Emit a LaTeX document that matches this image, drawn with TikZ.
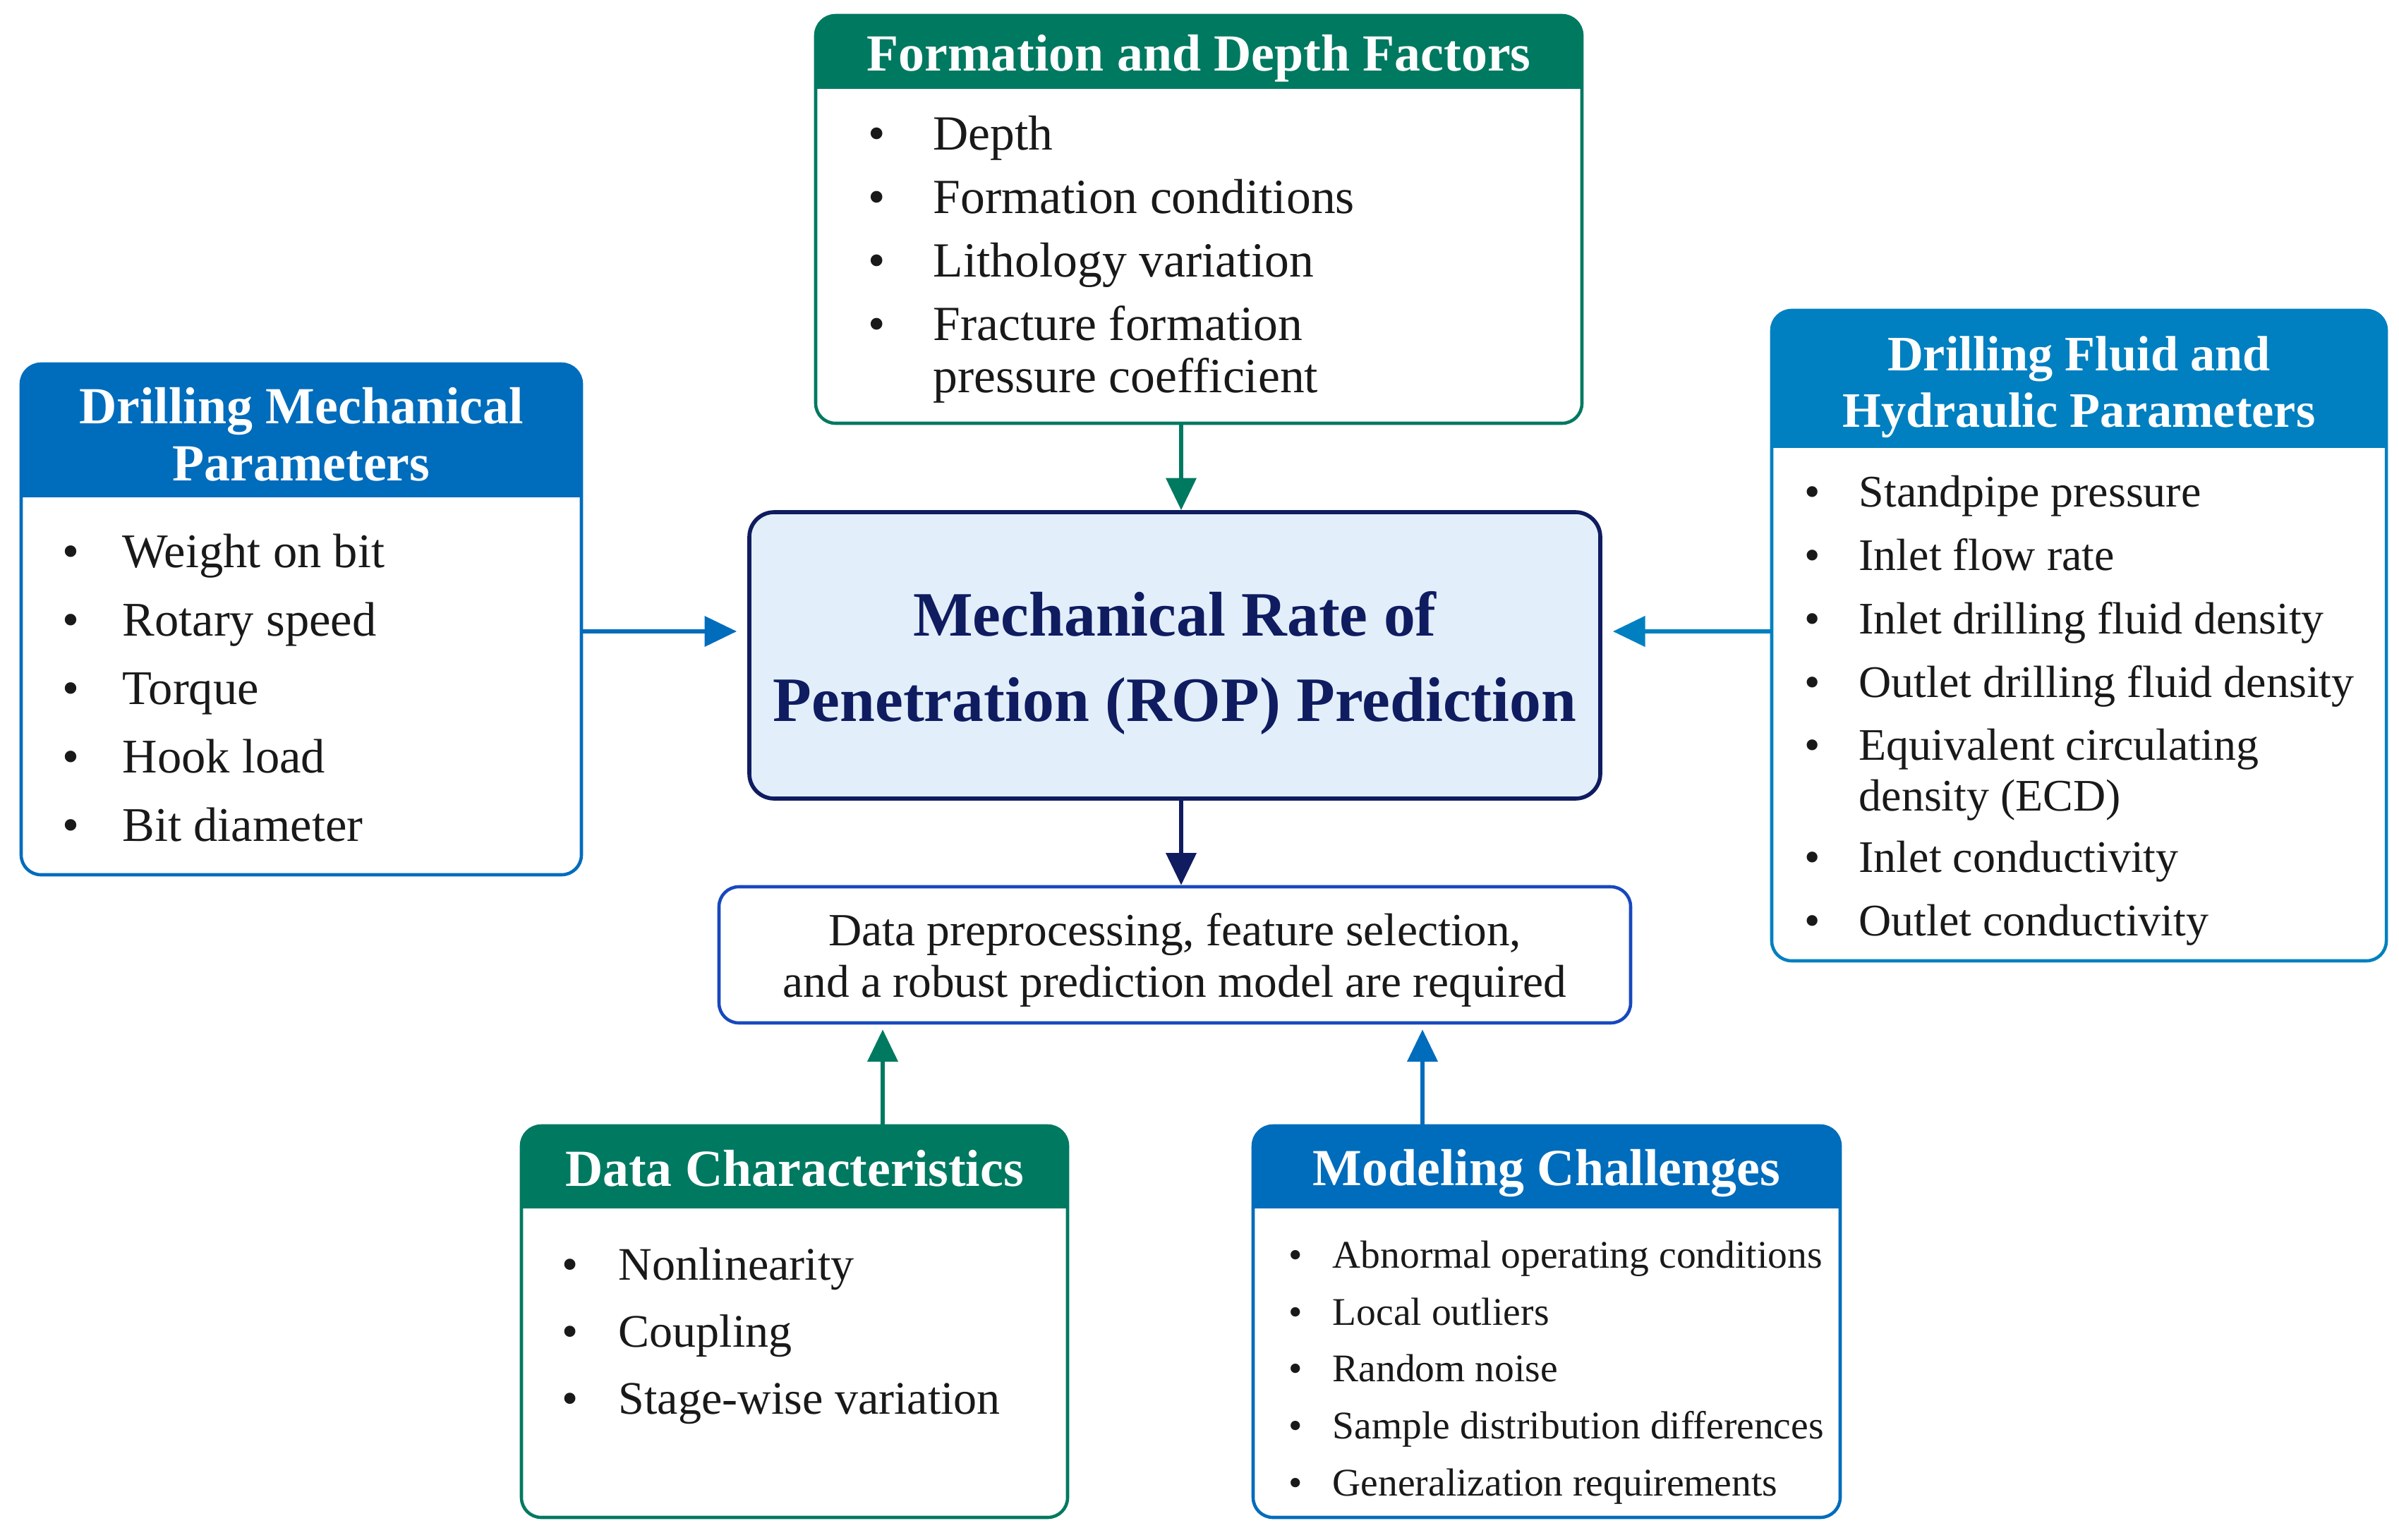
\documentclass[tikz,border=0pt]{standalone}
\usepackage{fontspec}
\setmainfont{Liberation Serif}
\usetikzlibrary{arrows.meta}

\definecolor{grn}{RGB}{0,121,97}
\definecolor{blu}{RGB}{0,108,188}
\definecolor{cya}{RGB}{0,128,192}
\definecolor{navy}{RGB}{16,28,96}
\definecolor{ropfill}{RGB}{226,239,251}
\definecolor{dpb}{RGB}{24,72,190}
\definecolor{txt}{RGB}{25,25,25}

\newcommand{\bul}[2][0.85cm]{\makebox[#1][l]{\textbullet}#2}

\begin{document}
\begin{tikzpicture}[x=1cm, y=-1cm, every node/.style={inner sep=0pt, text=txt}, >={Triangle[length=13pt, width=12pt]},
	panel/.style 2 args={draw=#1, fill=white, line width=1.3pt, rounded corners=8pt,
		path picture={\fill[#1, sharp corners] (path picture bounding box.north west) rectangle ([yshift=-#2]path picture bounding box.north east);}},
	hdr/.style={text=white, font=\fontsize{21}{22.8}\selectfont\bfseries, align=center},
	items/.style={anchor=north west, align=left},
	arr/.style={->, line width=1.9pt}]
	\useasboundingbox[fill=white] (0,0) rectangle (34,21.82);

	% central box and result box
	\node[draw=navy, fill=ropfill, line width=1.6pt, rounded corners=10pt, minimum width=12.06cm, minimum height=4.06cm] (rop) at (16.65,9.29) {};
	\node[align=center, text=navy, font=\fontsize{25.5}{34.4}\selectfont\bfseries] (ropt) at (16.65,9.40) {Mechanical Rate of\\Penetration (ROP) Prediction};
	\node[draw=dpb, fill=white, line width=1.3pt, rounded corners=8pt, minimum width=12.92cm, minimum height=1.93cm] (dp) at (16.65,13.535) {};
	\node[align=center, font=\fontsize{18.6}{21}\selectfont] (dpt) at (16.65,13.61) {Data preprocessing, feature selection,\\and a robust prediction model are required};

	% formation and depth
	\node[panel={grn}{1.04cm}, minimum width=10.86cm, minimum height=5.78cm] (fd) at (16.99,3.11) {};
	\node[hdr] (fdt) at ([yshift=-0.63cm]fd.north) {Formation and Depth Factors};
	\node[items, font=\fontsize{19.8}{21}\selectfont] (fdl) at (12.30,1.64) {\bul[0.92cm]{Depth}\\[4.6pt]
		\bul[0.92cm]{Formation conditions}\\[4.6pt]
		\bul[0.92cm]{Lithology variation}\\[4.6pt]
		\bul[0.92cm]{Fracture formation}\\
		\hspace*{0.92cm}pressure coefficient};

	% drilling mechanical
	\node[panel={blu}{1.89cm}, minimum width=7.94cm, minimum height=7.24cm] (lm) at (4.27,8.78) {};
	\node[hdr] (lmt) at ([yshift=-1.02cm]lm.north) {Drilling Mechanical\\Parameters};
	\node[items, font=\fontsize{19.5}{27.6}\selectfont] (lml) at (0.88,7.56) {\bul{Weight on bit}\\
		\bul{Rotary speed}\\
		\bul{Torque}\\
		\bul{Hook load}\\
		\bul{Bit diameter}};

	% drilling fluid and hydraulic
	\node[panel={cya}{1.95cm}, minimum width=8.71cm, minimum height=9.22cm] (rh) at (29.465,9.01) {};
	\node[hdr, font=\fontsize{20}{22.8}\selectfont\bfseries] (rht) at ([yshift=-1.11cm]rh.north) {Drilling Fluid and\\Hydraulic Parameters};
	\node[items, font=\fontsize{18.2}{20.4}\selectfont] (rhl) at (25.57,6.73) {\bul[0.77cm]{Standpipe pressure}\\[5.2pt]
		\bul[0.77cm]{Inlet flow rate}\\[5.2pt]
		\bul[0.77cm]{Inlet drilling fluid density}\\[5.2pt]
		\bul[0.77cm]{Outlet drilling fluid density}\\[5.2pt]
		\bul[0.77cm]{Equivalent circulating}\\
		\hspace*{0.77cm}density (ECD)\\[4.3pt]
		\bul[0.77cm]{Inlet conductivity}\\[5.2pt]
		\bul[0.77cm]{Outlet conductivity}};

	% data characteristics
	\node[panel={grn}{1.17cm}, minimum width=7.74cm, minimum height=5.55cm] (dc) at (11.26,18.735) {};
	\node[hdr] (dct) at ([yshift=-0.63cm]dc.north) {Data Characteristics};
	\node[items, font=\fontsize{18.8}{27}\selectfont] (dcl) at (7.96,17.68) {\bul[0.80cm]{Nonlinearity}\\
		\bul[0.80cm]{Coupling}\\
		\bul[0.80cm]{Stage-wise variation}};

	% modeling challenges
	\node[panel={blu}{1.17cm}, minimum width=8.32cm, minimum height=5.55cm] (mc) at (21.92,18.735) {};
	\node[hdr] (mct) at ([yshift=-0.69cm]mc.north) {Modeling Challenges};
	\node[items, font=\fontsize{15.8}{23}\selectfont] (mcl) at (18.26,17.58) {\bul[0.62cm]{Abnormal operating conditions}\\
		\bul[0.62cm]{Local outliers}\\
		\bul[0.62cm]{Random noise}\\
		\bul[0.62cm]{Sample distribution differences}\\
		\bul[0.62cm]{Generalization requirements}};

	% arrows
	\coordinate (ylev) at (0,8.95);
	\coordinate (xa) at (16.74,0);
	\coordinate (xb) at (12.51,0);
	\coordinate (xc) at (20.16,0);
	\draw[arr, grn] (fd.south -| xa) -- (rop.north -| xa);
	\draw[arr, blu, shorten >=0.15cm] (lm.east |- ylev) -- (rop.west |- ylev);
	\draw[arr, cya, shorten >=0.15cm] (rh.west |- ylev) -- (rop.east |- ylev);
	\draw[arr, navy] (rop.south -| xa) -- (dp.north -| xa);
	\draw[arr, grn, shorten >=0.07cm] (dc.north -| xb) -- (dp.south -| xb);
	\draw[arr, blu, shorten >=0.07cm] (mc.north -| xc) -- (dp.south -| xc);
\end{tikzpicture}
\end{document}
